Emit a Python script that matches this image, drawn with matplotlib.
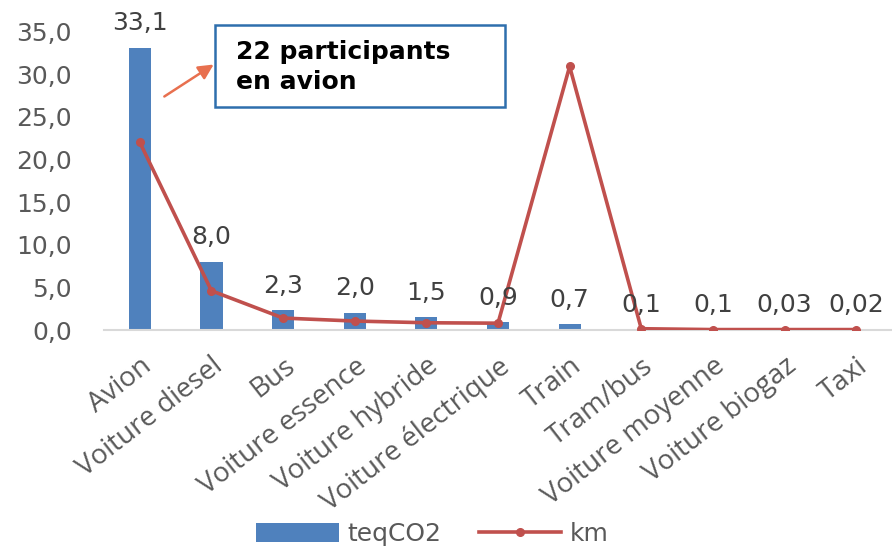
import matplotlib.pyplot as plt
from matplotlib.patches import Rectangle
import numpy as np
from matplotlib.ticker import FuncFormatter

# modes de transport
categories = ["Avion", "Voiture diesel", "Bus", "Voiture essence", "Voiture hybride",
              "Voiture électrique", "Train", "Tram/bus", "Voiture moyenne",
              "Voiture biogaz", "Taxi"]
teq_co2 = [33.1, 8.0, 2.3, 2.0, 1.5, 0.9, 0.7, 0.1, 0.1, 0.03, 0.02]
decimals = [1, 1, 1, 1, 1, 1, 1, 1, 1, 2, 2]
km = [22.0, 4.6, 1.4, 1.05, 0.85, 0.8, 30.9, 0.15, 0.05, 0.05, 0.05]

bar_color = "#4F81BD"
line_color = "#C0504D"
text_gray = "#595959"

fig = plt.figure(figsize=(8.92, 5.46), dpi=100)
ax = fig.add_axes([0.1166, 0.3956, 0.8834, 0.5467])

x = np.arange(len(categories))
bars = ax.bar(x, teq_co2, width=0.31, color=bar_color, label="teqCO2", zorder=2)
line, = ax.plot(x, km, color=line_color, lw=2.6, marker="o", ms=5.5, label="km", zorder=3)

# valeurs au-dessus des barres
for xi, v, d in zip(x, teq_co2, decimals):
    ax.annotate(f"{v:.{d}f}".replace(".", ","), (xi, v), xytext=(0, 9),
                textcoords="offset points", ha="center", va="bottom",
                fontsize=18, color="#404040", zorder=4)

ax.set_xlim(-0.5, len(categories) - 0.5)
ax.set_ylim(0, 35)
ax.set_yticks(np.arange(0, 36, 5))
ax.yaxis.set_major_formatter(FuncFormatter(lambda v, p: f"{v:.1f}".replace(".", ",")))
ax.tick_params(axis="y", length=0, pad=23, labelsize=18, labelcolor=text_gray)
ax.set_xticks(x)
ax.set_xticklabels(categories, rotation=38, ha="right", rotation_mode="anchor",
                   fontsize=20, color=text_gray, family="Open Sans")
ax.tick_params(axis="x", length=0, pad=16)

for s in ["top", "right", "left"]:
    ax.spines[s].set_visible(False)
ax.spines["bottom"].set_color("#D9D9D9")
ax.spines["bottom"].set_linewidth(1.5)

# encadré et flèche
fig.patches.append(Rectangle((215 / 892, 1 - 107 / 546), 290 / 892, 82 / 546,
                             transform=fig.transFigure, fc="white", ec="#2E6FAD",
                             lw=1.8, zorder=5))
fig.text(236 / 892, 1 - 67 / 546, "22 participants\nen avion", fontsize=18,
         fontweight="bold", color="black", ha="left", va="center",
         linespacing=1.3, zorder=6)
ax.annotate("", xy=(216 / 892, 1 - 63 / 546), xytext=(162 / 892, 1 - 98 / 546),
            xycoords="figure fraction", textcoords="figure fraction",
            arrowprops=dict(arrowstyle="-|>,head_length=0.9,head_width=0.45",
                            color="#E8704F", lw=1.8))

fig.legend([bars, line], ["teqCO2", "km"], loc="center",
           bbox_to_anchor=(0.485, 0.022), ncol=2, frameon=False,
           fontsize=18, labelcolor=text_gray, handlelength=3.3, handleheight=0.8,
           columnspacing=1.5, handletextpad=0.35)

fig.savefig("out.png", dpi=100)
